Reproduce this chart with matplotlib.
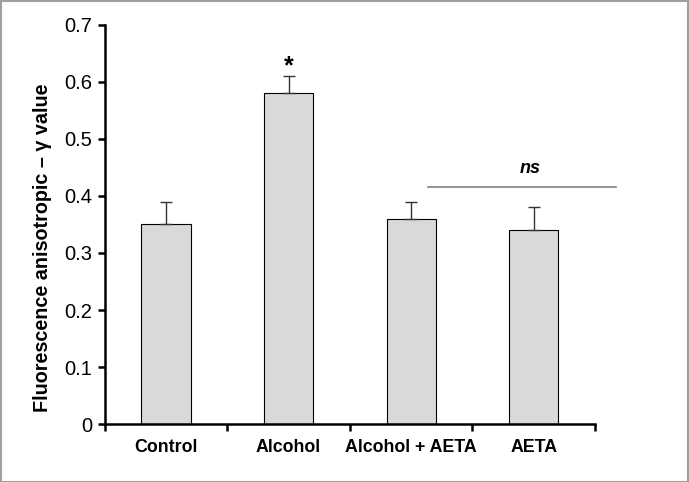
import matplotlib.pyplot as plt
from matplotlib.patches import Rectangle

plt.rcParams["font.family"] = ["Liberation Sans", "DejaVu Sans"]

groups = ["Control", "Alcohol", "Alcohol + AETA", "AETA"]
means = [0.35, 0.58, 0.36, 0.34]
errors = [0.04, 0.03, 0.03, 0.04]
y_ticks = [0, 0.1, 0.2, 0.3, 0.4, 0.5, 0.6, 0.7]
y_tick_labels = ["0", "0.1", "0.2", "0.3", "0.4", "0.5", "0.6", "0.7"]


def main():
    fig = plt.figure(figsize=(6.89, 4.82), dpi=100)
    ax = fig.add_axes([0.152, 0.1203, 0.7116, 0.8279])

    x = list(range(len(groups)))
    ax.bar(x, means, width=0.4, color="#d9d9d9", edgecolor="black", linewidth=0.8, zorder=2)
    # upper error bars only
    ax.errorbar(x, means, yerr=[[0] * len(errors), errors], fmt="none",
                ecolor="#333333", elinewidth=1.0, capsize=4, capthick=1.0, zorder=3)

    ax.set_xlim(-0.5, 3.5)
    ax.set_ylim(0, 0.7)
    ax.set_yticks(y_ticks)
    ax.set_yticklabels(y_tick_labels, fontsize=14.5)
    ax.set_xticks([-0.5, 0.5, 1.5, 2.5, 3.5])
    ax.set_xticklabels([])
    ax.set_xticks(x, minor=True)
    ax.set_xticklabels(groups, minor=True, fontsize=12.8, fontweight="bold")
    ax.tick_params(axis="x", which="minor", length=0, pad=11)
    ax.tick_params(axis="x", which="major", direction="out", length=5, width=1.8)
    ax.tick_params(axis="y", direction="out", length=5, width=1.8, pad=4)

    for side in ["top", "right"]:
        ax.spines[side].set_visible(False)
    for side in ["left", "bottom"]:
        ax.spines[side].set_linewidth(1.8)

    ax.set_ylabel("Fluorescence anisotropic \u2013 \u03b3 value", fontsize=14.2,
                  fontweight="bold", va="center")
    ax.yaxis.set_label_coords(-0.127, 0.441)

    # significance marks
    ax.text(1, 0.628, "*", ha="center", va="center", fontsize=18, fontweight="bold")
    ax.plot([2.14, 3.67], [0.416, 0.416], color="#808080", linewidth=1.2, clip_on=False)
    ax.text(2.97, 0.449, "ns", ha="center", va="center", fontsize=13,
            fontweight="bold", fontstyle="italic")

    fig.patches.append(Rectangle((0.001, 0.001), 0.997, 0.996, transform=fig.transFigure,
                                 fill=False, edgecolor="#a0a0a0", linewidth=1.5))

    fig.savefig("out.png", dpi=100)


if __name__ == "__main__":
    main()
